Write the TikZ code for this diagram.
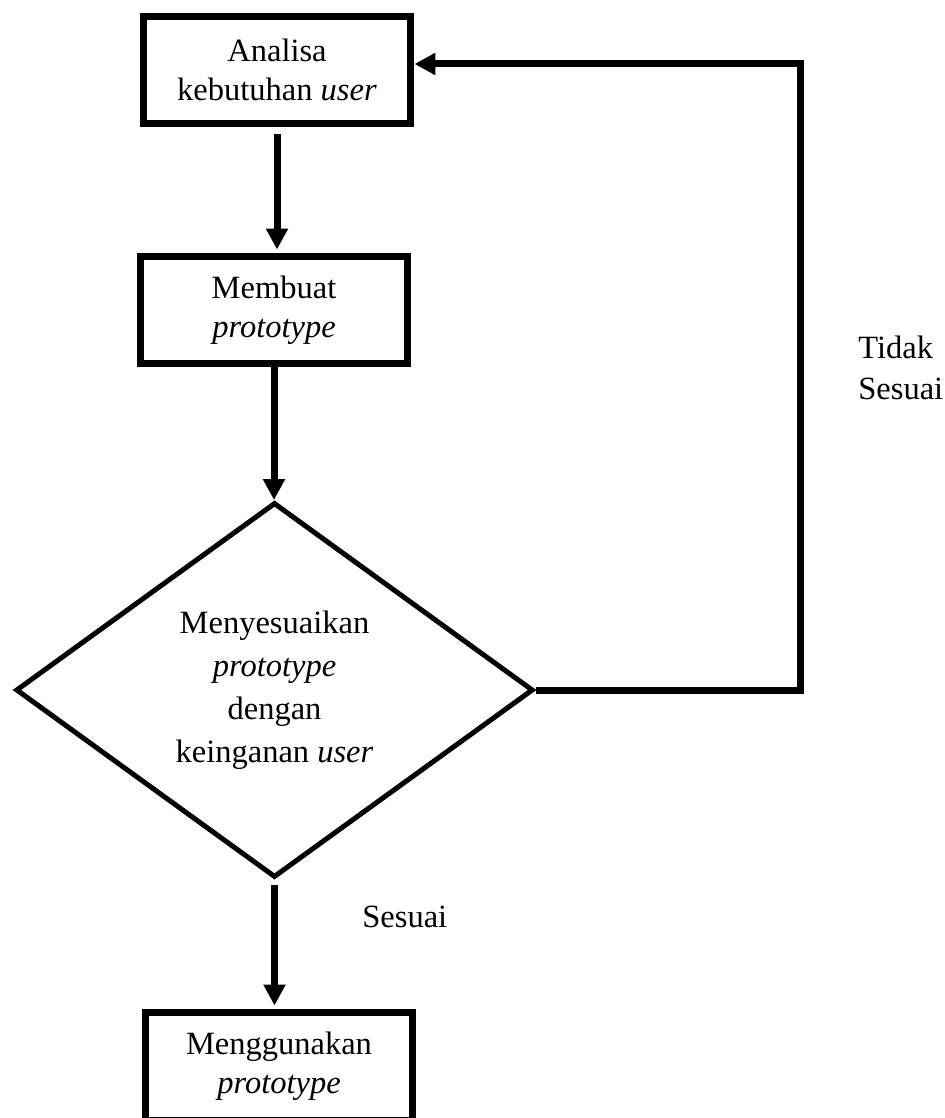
\documentclass[tikz,border=0pt]{standalone}
\usepackage{fontspec}
\setmainfont{Liberation Serif}
\usetikzlibrary{shapes.geometric,arrows.meta}

\tikzset{
	stepbox/.style={draw, line width=0.14cm, minimum width=5.36cm, minimum height=2.16cm, inner sep=0pt, align=center, font=\fontsize{18.5}{22}\selectfont},
	decision/.style={draw, shape=diamond, line width=0.1cm, minimum width=10.35cm, minimum height=7.5cm, aspect=1.4, inner sep=0pt, align=center, font=\fontsize{18.5}{24.5}\selectfont},
	flow/.style={line width=0.14cm, -{Triangle[width=0.42cm,length=0.42cm]}},
	note/.style={inner sep=0pt, align=left, font=\fontsize{18.5}{23}\selectfont}
}

\begin{document}
\begin{tikzpicture}[x=0.02cm,y=-0.02cm]

		\useasboundingbox (0,0) rectangle (945,1118);

		\node (Analisa) at (277,70) [stepbox]{Analisa\\kebutuhan \textit{user}};
		\node (Membuat) at (274,310) [stepbox]{Membuat\\\textit{prototype}};

		\node (Menyesuaikan) at (274.5,690) [decision]{Menyesuaikan\\\textit{prototype}\\dengan\\keinganan \textit{user}};

		\node (Menggunakan) at (279,1066) [stepbox]{Menggunakan\\\textit{prototype}};

		\coordinate (Balik) at (800,64);

		\node (Tidak) at (858,368) [note, anchor=west]{Tidak\\Sesuai};
		\node (Sesuai) at (362,927) [note, anchor=base west]{Sesuai};

		\draw [flow, shorten <=0.14cm, shorten >=0.06cm] (Analisa.south) -- (Analisa.south |- Membuat.north);
		\draw [flow] (Membuat.south) -- (Membuat.south |- Menyesuaikan.north);
		\draw [flow, shorten <=0.1cm, shorten >=0.06cm] (Menyesuaikan.south) -- (Menyesuaikan.south |- Menggunakan.north);

		\draw [flow] (Menyesuaikan.east) -- (Menyesuaikan.east -| Balik) -- (Balik) -- (Analisa.east |- Balik);
	\end{tikzpicture}
\end{document}
